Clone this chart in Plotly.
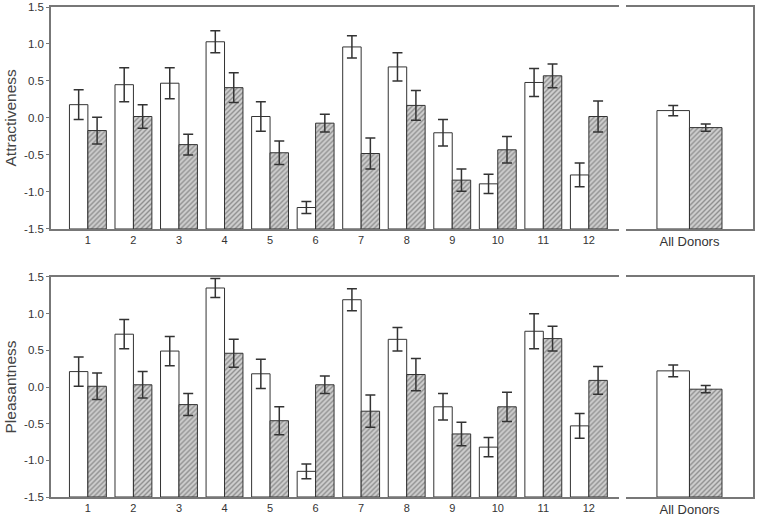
import plotly.graph_objects as go

donors = list(range(1, 13))
tick_labels = [str(d) for d in donors]
all_label = ["All Donors"]

attr_white = [0.18, 0.45, 0.47, 1.03, 0.02, -1.21, 0.96, 0.69, -0.20, -0.89, 0.48, -0.77]
attr_white_err = [0.20, 0.23, 0.21, 0.15, 0.20, 0.08, 0.15, 0.19, 0.18, 0.13, 0.19, 0.16]
attr_hatch = [-0.17, 0.02, -0.36, 0.41, -0.47, -0.07, -0.48, 0.17, -0.84, -0.43, 0.57, 0.02]
attr_hatch_err = [0.18, 0.16, 0.14, 0.20, 0.16, 0.12, 0.21, 0.20, 0.15, 0.18, 0.16, 0.21]
attr_all_white = [0.10]
attr_all_white_err = [0.07]
attr_all_hatch = [-0.13]
attr_all_hatch_err = [0.05]

pleas_white = [0.21, 0.72, 0.49, 1.35, 0.18, -1.15, 1.19, 0.65, -0.27, -0.82, 0.76, -0.53]
pleas_white_err = [0.20, 0.20, 0.20, 0.13, 0.20, 0.10, 0.15, 0.16, 0.18, 0.13, 0.24, 0.17]
pleas_hatch = [0.01, 0.03, -0.24, 0.46, -0.46, 0.03, -0.33, 0.17, -0.64, -0.27, 0.66, 0.09]
pleas_hatch_err = [0.18, 0.18, 0.15, 0.19, 0.19, 0.12, 0.22, 0.22, 0.16, 0.20, 0.17, 0.19]
pleas_all_white = [0.22]
pleas_all_white_err = [0.08]
pleas_all_hatch = [-0.03]
pleas_all_hatch_err = [0.05]

y_titles = ["Attractiveness", "Pleasantness"]

BASE = -1.5  # bars rise from the bottom of the axis
EDGE = "#333333"
AX = "#777777"
pattern = dict(shape="/", fgcolor="#4a4a4a", bgcolor="#d0d0d0", size=3.5, solidity=0.4)
err_style = dict(type="data", color="#333333", thickness=1.5, width=5, visible=True)

fig = go.Figure()

def sizes(vals):
    return [v - BASE for v in vals]

def add_pair(xv, wv, we, hv, he, xa, ya, width):
    fig.add_trace(go.Bar(x=xv, y=sizes(wv), base=BASE, width=width, offset=-width,
                         marker=dict(color="white", line=dict(color=EDGE, width=1)),
                         error_y=dict(array=we, **err_style),
                         xaxis=xa, yaxis=ya, showlegend=False))
    fig.add_trace(go.Bar(x=xv, y=sizes(hv), base=BASE, width=width, offset=0,
                         marker=dict(color="#d0d0d0", pattern=pattern, line=dict(color=EDGE, width=1)),
                         error_y=dict(array=he, **err_style),
                         xaxis=xa, yaxis=ya, showlegend=False))

W12 = 0.405
WALL = 0.256
add_pair(donors, attr_white, attr_white_err, attr_hatch, attr_hatch_err, "x", "y", W12)
add_pair([0], attr_all_white, attr_all_white_err, attr_all_hatch, attr_all_hatch_err, "x2", "y2", WALL)
add_pair(donors, pleas_white, pleas_white_err, pleas_hatch, pleas_hatch_err, "x3", "y3", W12)
add_pair([0], pleas_all_white, pleas_all_white_err, pleas_all_hatch, pleas_all_hatch_err, "x4", "y4", WALL)

FAM = "Liberation Sans, Arial"
tickfont = dict(family=FAM, size=11, color="#333333")
xcommon = dict(showline=True, linecolor=AX, linewidth=1.5, mirror=True, ticks="",
               showgrid=False, zeroline=False, automargin=False)
ycommon = dict(range=[-1.5, 1.5], showline=True, linecolor=AX, linewidth=1.5,
               showgrid=False, zeroline=False, automargin=False)
yleft = dict(ycommon, ticks="outside", ticklen=3, tickcolor=AX, tickwidth=1,
             tickfont=dict(family=FAM, size=11.5, color="#333333"),
             tickvals=[-1.5, -1.0, -0.5, 0.0, 0.5, 1.0, 1.5],
             ticktext=["-1.5", "-1.0", "-0.5", "0.0", "0.5", "1.0", "1.5"])
yright = dict(ycommon, side="right", showticklabels=False, ticks="")

xl = [0.0, 0.809]
xr = [0.819, 1.0]
yt = [0.547, 1.0]
yb = [0.0, 0.449]

fig.update_layout(
    width=768, height=520,
    margin=dict(l=51, r=15, t=7, b=23),
    plot_bgcolor="white", paper_bgcolor="white",
    barmode="overlay",
    xaxis=dict(domain=xl, anchor="y", range=[0.19, 12.66], tickvals=donors, ticktext=tick_labels,
               tickfont=tickfont, **xcommon),
    yaxis=dict(domain=yt, anchor="x", **yleft),
    xaxis2=dict(domain=xr, anchor="y2", range=[-0.5, 0.5], tickvals=[0], ticktext=all_label,
                tickfont=dict(family=FAM, size=13, color="#333333"), **xcommon),
    yaxis2=dict(domain=yt, anchor="x2", **yright),
    xaxis3=dict(domain=xl, anchor="y3", range=[0.19, 12.66], tickvals=donors, ticktext=tick_labels,
                tickfont=tickfont, **xcommon),
    yaxis3=dict(domain=yb, anchor="x3", **yleft),
    xaxis4=dict(domain=xr, anchor="y4", range=[-0.5, 0.5], tickvals=[0], ticktext=all_label,
                tickfont=dict(family=FAM, size=13, color="#333333"), **xcommon),
    yaxis4=dict(domain=yb, anchor="x4", **yright),
)

title_x = (10.5 - 51) / 702
for title, dom in zip(y_titles, [yt, yb]):
    fig.add_annotation(text=title, xref="paper", yref="paper", x=title_x, y=(dom[0] + dom[1]) / 2,
                       xanchor="center", yanchor="middle", textangle=-90, showarrow=False,
                       font=dict(family=FAM, size=15.5, color="#444444"))

fig.write_html("out.html", config={"displayModeBar": False},
               post_script="document.body.style.margin='0';document.body.style.overflow='hidden';")
